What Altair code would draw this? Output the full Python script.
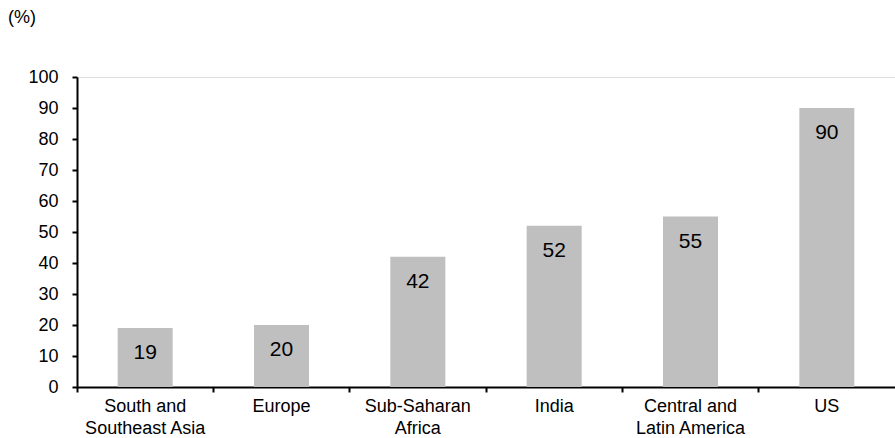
import altair as alt
import pandas as pd

categories = ["South and|Southeast Asia", "Europe", "Sub-Saharan|Africa", "India",
              "Central and|Latin America", "US"]
values = [19, 20, 42, 52, 55, 90]
y_ticks = list(range(0, 101, 10))

df = pd.DataFrame({"region": categories, "value": values})
FONT = "Liberation Sans"

x_enc = alt.X("region:N", sort=categories,
              scale=alt.Scale(paddingInner=0, paddingOuter=0),
              axis=alt.Axis(title=None, labelAngle=0, bandPosition=0,
                            labelExpr="split(datum.value, '|')",
                            labelFont=FONT, labelFontSize=18, labelColor="black",
                            labelLineHeight=22, labelPadding=5, labelBaseline="top",
                            tickSize=5, tickColor="black", tickWidth=2,
                            domainColor="black", domainWidth=2, grid=False))
y_enc = alt.Y("value:Q", scale=alt.Scale(domain=[0, 100], nice=False),
              axis=alt.Axis(title=None, values=y_ticks, labelFont=FONT, labelFontSize=18,
                            labelColor="black", labelPadding=14, tickSize=5,
                            labelOverlap=False,
                            tickColor="black", tickWidth=2, domainColor="black",
                            domainWidth=2, grid=False))

bars = alt.Chart(df).mark_bar(size=55, color="#bfbfbf").encode(x=x_enc, y=y_enc)
labels = alt.Chart(df).mark_text(font=FONT, fontSize=21, color="black", dy=25,
                                 baseline="middle").encode(
    x=x_enc, y=y_enc, text="value:Q")
unit = alt.Chart(pd.DataFrame({"t": ["(%)"]})).mark_text(
    font=FONT, fontSize=18, color="black", align="left", baseline="middle").encode(
    x=alt.value(-69), y=alt.value(-59), text="t:N")

chart = alt.layer(bars, labels, unit).properties(
    width=818, height=310,
    autosize=alt.AutoSizeParams(type="none"),
    padding={"left": 77, "top": 77, "right": 0, "bottom": 51},
).configure_view(stroke=None).configure(background="white")

chart.save("out.html", embed_options={"renderer": "svg", "actions": False})
